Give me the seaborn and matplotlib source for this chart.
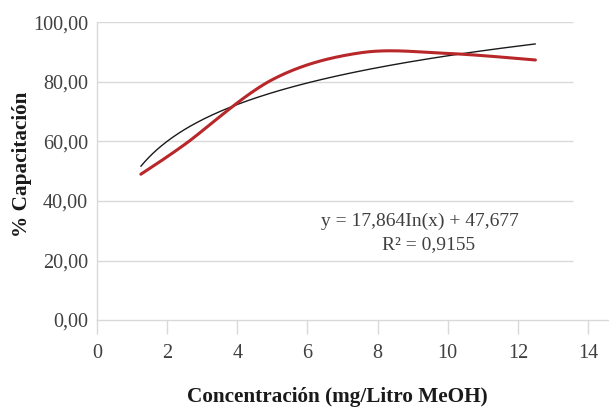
import numpy as np
import pandas as pd
import matplotlib
matplotlib.use("Agg")
import matplotlib.pyplot as plt
import seaborn as sns

# ---- data ----
concentracion = [1.25, 2.5, 5.0, 7.5, 10.0, 12.5]
capacitacion = [49.0, 59.0, 80.8, 89.8, 89.6, 87.4]
trend_slope = 17.864
trend_intercept = 47.677
r_squared = 0.9155
y_ticks = [0, 20, 40, 60, 80, 100]
x_ticks = [0, 2, 4, 6, 8, 10, 12, 14]

sns.set_theme(style="white")
plt.rcParams['font.family'] = ['Liberation Serif', 'DejaVu Serif']


def excel_smooth(xs, ys, n=40):
    """Excel-like smoothed line (Bezier through the points)."""
    P = np.column_stack([xs, ys]).astype(float)
    m = len(P)
    out = []
    for i in range(m - 1):
        p0 = P[i - 1] if i > 0 else P[i]
        p1 = P[i]
        p2 = P[i + 1]
        p3 = P[i + 2] if i + 2 < m else P[i + 1]
        c1 = p1 + (p2 - p0) / 6.0
        c2 = p2 - (p3 - p1) / 6.0
        t = np.linspace(0, 1, n)[:, None]
        seg = ((1 - t) ** 3) * p1 + 3 * ((1 - t) ** 2) * t * c1 + 3 * (1 - t) * t ** 2 * c2 + t ** 3 * p2
        out.append(seg if i == 0 else seg[1:])
    arr = np.vstack(out)
    return arr[:, 0], arr[:, 1]


sx, sy = excel_smooth(concentracion, capacitacion)
df_red = pd.DataFrame({"x": sx, "y": sy})

tx = np.linspace(min(concentracion), max(concentracion), 200)
ty = trend_slope * np.log(tx) + trend_intercept
df_trend = pd.DataFrame({"x": tx, "y": ty})

fig = plt.figure(figsize=(6.09, 4.07), dpi=100)
ax = fig.add_axes([97 / 609, 1 - 320 / 407, (588 - 97) / 609, (320 - 22.5) / 407])

sns.lineplot(data=df_trend, x="x", y="y", ax=ax, color="#1a1a1a", linewidth=1.0,
             estimator=None, sort=False, zorder=3)
sns.lineplot(data=df_red, x="x", y="y", ax=ax, color="#b8272a", linewidth=2.2,
             estimator=None, sort=False, zorder=4)

ax.set_xlim(0, 14)
ax.set_ylim(0, 100)

grid_c = "#d9d9d9"
ax.hlines(y_ticks[1:], 0, (573 - 97) / (588 - 97), transform=ax.get_yaxis_transform(),
          color=grid_c, linewidth=1.0, zorder=1)

ax.set_yticks(y_ticks)
ax.set_yticklabels([f"{v:.2f}".replace('.', ',') for v in y_ticks])
ax.set_xticks(x_ticks)
ax.set_xticklabels([str(v) for v in x_ticks])

ax.tick_params(axis='y', length=0, pad=6.5, labelsize=14.5, labelcolor="#404040")
ax.tick_params(axis='x', length=10, width=1.0, color=grid_c, direction='out',
               pad=7, labelsize=14.5, labelcolor="#404040", bottom=True)

for s in ["top", "right"]:
    ax.spines[s].set_visible(False)
ax.spines["left"].set_color(grid_c)
ax.spines["left"].set_linewidth(1.0)
ax.spines["bottom"].set_color(grid_c)
ax.spines["bottom"].set_linewidth(1.0)
ax.spines["bottom"].set_bounds(0, 14.6)

ax.set_xlabel("Concentración (mg/Litro MeOH)", fontsize=15.3, fontweight="bold",
              color="#1a1a1a", va="center")
ax.xaxis.set_label_coords((337 - 97) / 491, (320 - 397) / 297.5)
ax.set_ylabel("% Capacitación", fontsize=15.3, fontweight="bold", color="#1a1a1a",
              va="center")
ax.yaxis.set_label_coords((22 - 97) / 491, (320 - 164) / 297.5)

ax.text(9.21, 33.0, f"y = {trend_slope:.3f}In(x) + {trend_intercept:.3f}".replace('.', ','),
        ha="center", va="center", fontsize=14, color="#404040")
ax.text(9.45, 25.2, f"R² = {r_squared:.4f}".replace('.', ','),
        ha="center", va="center", fontsize=14, color="#404040")

fig.savefig("out.png", dpi=100)
